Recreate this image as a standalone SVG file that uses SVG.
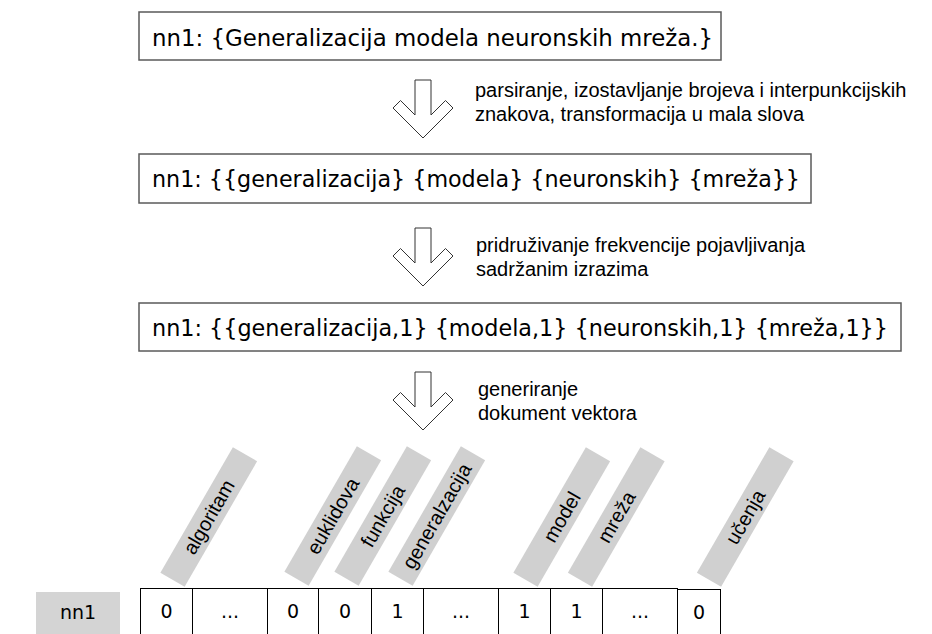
<svg xmlns="http://www.w3.org/2000/svg" width="932" height="634" viewBox="0 0 932 634">
  <defs>
    <style>
      .box{fill:#fff;stroke:#5a5a5a;stroke-width:1.5}
      .bt{font-family:"DejaVu Sans",Verdana,sans-serif;font-size:23px;fill:#000}
      .desc{font-family:"Liberation Sans",Arial,sans-serif;font-size:20px;fill:#000}
      .arrow{fill:#fff;stroke:#333;stroke-width:1}
      .bar{fill:#d0d0d0}
      .bl{font-family:"Liberation Sans",Arial,sans-serif;font-size:20px;fill:#000;text-anchor:middle}
      .cell{fill:#fff;stroke:#000;stroke-width:1}
      .ct{font-family:"DejaVu Sans",Verdana,sans-serif;font-size:19px;fill:#000;text-anchor:middle}
      .tag{fill:#d4d4d4}
    </style>
    <!-- hollow block arrow pointing down, origin at top centre of the shaft -->
    <path id="down" d="M -8 0 H 8 V 35 L 22.5 20.5 L 30 28 L 0 58 L -30 28 L -22.5 20.5 L -8 35 Z"/>
    <!-- rotated term label strip -->
    <rect id="strip" x="-72.5" y="-14" width="145" height="28"/>
  </defs>

  <rect width="932" height="634" fill="#fff"/>

  <!-- processing stages -->
  <g id="stage1">
    <rect class="box" x="139" y="12" width="582" height="48"/>
    <text class="bt" x="152" y="46" textLength="561" lengthAdjust="spacingAndGlyphs">nn1: {Generalizacija modela neuronskih mreža.}</text>
  </g>
  <g id="stage2">
    <rect class="box" x="139" y="154" width="672" height="49"/>
    <text class="bt" x="152" y="187" textLength="648" lengthAdjust="spacingAndGlyphs">nn1: {{generalizacija} {modela} {neuronskih} {mreža}}</text>
  </g>
  <g id="stage3">
    <rect class="box" x="139" y="303" width="762" height="48"/>
    <text class="bt" x="152" y="336" textLength="736" lengthAdjust="spacingAndGlyphs">nn1: {{generalizacija,1} {modela,1} {neuronskih,1} {mreža,1}}</text>
  </g>

  <!-- transitions between stages -->
  <g id="connectors">
    <use href="#down" class="arrow" transform="translate(423,80)"/>
    <use href="#down" class="arrow" transform="translate(423,228)"/>
    <use href="#down" class="arrow" transform="translate(423,372)"/>
  </g>

  <g id="step-labels">
    <text class="desc" x="475" y="97">parsiranje, izostavljanje brojeva i interpunkcijskih</text>
    <text class="desc" x="475" y="121">znakova, transformacija u mala slova</text>
    <text class="desc" x="476" y="252">pridruživanje frekvencije pojavljivanja</text>
    <text class="desc" x="476" y="276">sadržanim izrazima</text>
    <text class="desc" x="478" y="396">generiranje</text>
    <text class="desc" x="478" y="420">dokument vektora</text>
  </g>

  <!-- vocabulary terms above the vector -->
  <g id="terms">
    <g id="term-algoritam" transform="translate(208.75,517) rotate(-60)">
      <use href="#strip" class="bar"/><text class="bl" y="7">algoritam</text>
    </g>
    <g id="term-euklidova" transform="translate(332.75,516) rotate(-60)">
      <use href="#strip" class="bar"/><text class="bl" y="7">euklidova</text>
    </g>
    <g id="term-funkcija" transform="translate(382.75,516) rotate(-60)">
      <use href="#strip" class="bar"/><text class="bl" y="7">funkcija</text>
    </g>
    <g id="term-generalzacija" transform="translate(436.75,516) rotate(-60)">
      <use href="#strip" class="bar"/><text class="bl" y="7">generalzacija</text>
    </g>
    <g id="term-model" transform="translate(561.75,517) rotate(-60)">
      <use href="#strip" class="bar"/><text class="bl" y="7">model</text>
    </g>
    <g id="term-mreza" transform="translate(616.25,517) rotate(-60)">
      <use href="#strip" class="bar"/><text class="bl" y="7">mreža</text>
    </g>
    <g id="term-ucenja" transform="translate(745.25,517) rotate(-60)">
      <use href="#strip" class="bar"/><text class="bl" y="7">učenja</text>
    </g>
  </g>

  <!-- document vector -->
  <g id="doc-label">
    <rect class="tag" x="36" y="592" width="84" height="48"/>
    <text class="ct" x="78" y="619">nn1</text>
  </g>
  <g id="vector">
    <rect class="cell" x="140.5" y="588.5" width="52" height="60"/>
    <rect class="cell" x="192.5" y="588.5" width="75" height="60"/>
    <rect class="cell" x="267.5" y="588.5" width="51" height="60"/>
    <rect class="cell" x="318.5" y="588.5" width="53" height="60"/>
    <rect class="cell" x="371.5" y="588.5" width="52" height="60"/>
    <rect class="cell" x="423.5" y="588.5" width="75" height="60"/>
    <rect class="cell" x="498.5" y="588.5" width="52" height="60"/>
    <rect class="cell" x="550.5" y="588.5" width="52" height="60"/>
    <rect class="cell" x="602.5" y="588.5" width="75" height="60"/>
    <rect class="cell" x="677.5" y="589.5" width="43" height="60"/>
    <text class="ct" x="166.5" y="618">0</text>
    <text class="ct" x="230" y="618">...</text>
    <text class="ct" x="293" y="618">0</text>
    <text class="ct" x="345" y="618">0</text>
    <text class="ct" x="397.5" y="618">1</text>
    <text class="ct" x="461" y="618">...</text>
    <text class="ct" x="524.5" y="618">1</text>
    <text class="ct" x="576.5" y="618">1</text>
    <text class="ct" x="640" y="618">...</text>
    <text class="ct" x="699" y="619">0</text>
  </g>
</svg>
